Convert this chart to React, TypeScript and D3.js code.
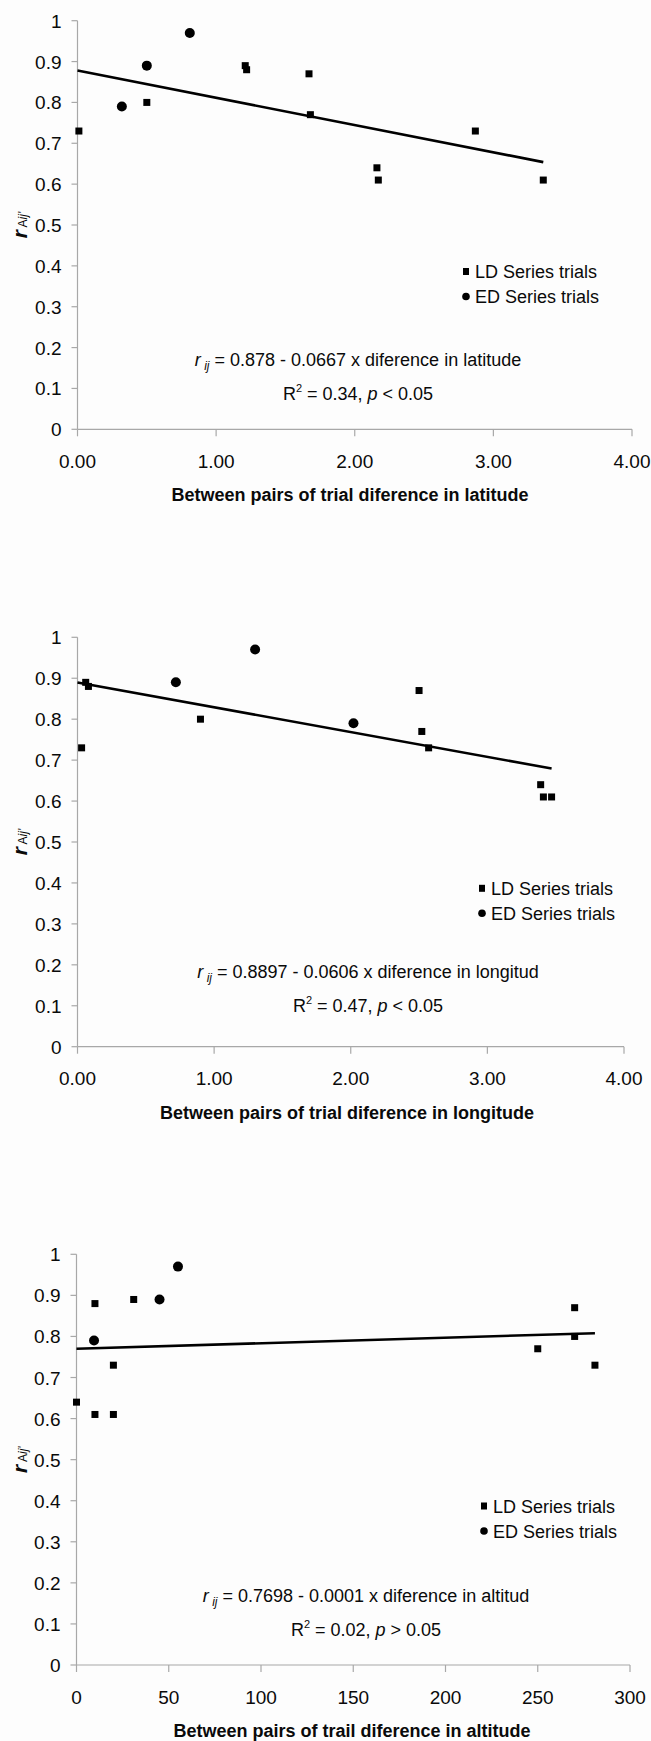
import React from 'react';
import * as d3 from 'd3';

// ---- data ----
// latitude panel
const latLdX = [0.01, 0.5, 1.21, 1.22, 1.67, 1.68, 2.16, 2.17, 2.87, 3.36];
const latLdY = [0.73, 0.8, 0.89, 0.88, 0.87, 0.77, 0.64, 0.61, 0.73, 0.61];
const latEdX = [0.32, 0.5, 0.81];
const latEdY = [0.79, 0.89, 0.97];
const latFit = [0.878, -0.0667, 3.36]; // intercept, slope, last x

// longitude panel
const lonLdX = [0.03, 0.06, 0.08, 0.9, 2.5, 2.52, 2.57, 3.39, 3.41, 3.47];
const lonLdY = [0.73, 0.89, 0.88, 0.8, 0.87, 0.77, 0.73, 0.64, 0.61, 0.61];
const lonEdX = [0.72, 1.3, 2.02];
const lonEdY = [0.89, 0.97, 0.79];
const lonFit = [0.8897, -0.0606, 3.47];

// altitude panel
const altLdX = [0, 10, 10, 20, 20, 31, 250, 270, 270, 281];
const altLdY = [0.64, 0.88, 0.61, 0.73, 0.61, 0.89, 0.77, 0.87, 0.8, 0.73];
const altEdX = [9.5, 45, 55];
const altEdY = [0.79, 0.89, 0.97];
const altFit = [0.77, 0.000135, 281];

const yTicks = [0, 0.1, 0.2, 0.3, 0.4, 0.5, 0.6, 0.7, 0.8, 0.9, 1];
const degTicks = [0, 1, 2, 3, 4];
const altTicks = [0, 50, 100, 150, 200, 250, 300];

const legendLabels = ['LD Series trials', 'ED Series trials'];

const latNote = ['0.878 - 0.0667 x diference in latitude', '0.34', '<'];
const lonNote = ['0.8897 - 0.0606 x diference in longitud', '0.47', '<'];
const altNote = ['0.7698 - 0.0001 x diference in altitud', '0.02', '>'];

const latTitle = 'Between pairs of trial diference in latitude';
const lonTitle = 'Between pairs of trial diference in longitude';
const altTitle = 'Between pairs of trail diference in altitude';

const FONT = '"Liberation Sans", Arial, Helvetica, sans-serif';
const AXIS = '#a8a8a8';
const INK = '#0a0a0a';

const Panel = (props) => {
    const { left, right, top, bottom, xMax, xTicks, fmt, ldX, ldY, edX, edY, fit,
        legX, legY, noteX, noteY, note, title, titleX } = props;

    const x = d3.scaleLinear().domain([0, xMax]).range([left, right]);
    const y = d3.scaleLinear().domain([0, 1]).range([bottom, top]);

    const trend = d3.line()
        .x(d => x(d))
        .y(d => y(fit[0] + fit[1] * d));

    const sq = 7;
    return (
        <g fontFamily={FONT}>
            {/* axes */}
            <line x1={left} x2={left} y1={top} y2={bottom} stroke={AXIS} strokeWidth={1.2} />
            <line x1={left} x2={right} y1={bottom} y2={bottom} stroke={AXIS} strokeWidth={1.2} />
            {yTicks.map(t => (
                <g key={'y' + t}>
                    <line x1={left - 6} x2={left} y1={y(t)} y2={y(t)} stroke={AXIS} strokeWidth={1.2} />
                    <text x={left - 16} y={y(t) + 7} textAnchor="end" fontSize={19} fill={INK}>{String(t)}</text>
                </g>
            ))}
            {xTicks.map(t => (
                <g key={'x' + t}>
                    <line x1={x(t)} x2={x(t)} y1={bottom} y2={bottom + 7} stroke={AXIS} strokeWidth={1.2} />
                    <text x={x(t)} y={bottom + 38.5} textAnchor="middle" fontSize={19} fill={INK}>{fmt(t)}</text>
                </g>
            ))}

            {/* y title */}
            <text transform={`translate(27,${(top + bottom) / 2}) rotate(-90)`} textAnchor="middle" fill={INK}>
                <tspan fontSize={21} fontWeight="bold" fontStyle="italic">r</tspan>
                <tspan fontSize={12}> A</tspan>
                <tspan fontSize={12} fontStyle="italic">ij'</tspan>
            </text>

            {/* trend */}
            <path d={trend([0, fit[2]])} fill="none" stroke="#000" strokeWidth={2.6} />

            {/* points */}
            {ldX.map((v, i) => (
                <rect key={'ld' + i} x={x(v) - sq / 2} y={y(ldY[i]) - sq / 2} width={sq} height={sq} fill="#000" />
            ))}
            {edX.map((v, i) => (
                <circle key={'ed' + i} cx={x(v)} cy={y(edY[i])} r={5} fill="#000" />
            ))}

            {/* legend */}
            <rect x={legX - 3} y={legY - 3.5} width={6} height={7} fill="#000" />
            <text x={legX + 9} y={legY + 6.5} fontSize={18} fill={INK}>{legendLabels[0]}</text>
            <circle cx={legX} cy={legY + 25} r={3.8} fill="#000" />
            <text x={legX + 9} y={legY + 31.5} fontSize={18} fill={INK}>{legendLabels[1]}</text>

            {/* fitted equation */}
            <text x={noteX} y={noteY} textAnchor="middle" fontSize={18} fill={INK}>
                <tspan fontStyle="italic">r</tspan>
                <tspan fontStyle="italic" fontSize={12} dy={4}> ij</tspan>
                <tspan dy={-4}>{' = ' + note[0]}</tspan>
            </text>
            <text x={noteX} y={noteY + 34} textAnchor="middle" fontSize={18} fill={INK}>
                <tspan>R</tspan>
                <tspan fontSize={11} dy={-8}>2</tspan>
                <tspan dy={8}>{' = ' + note[1] + ', '}</tspan>
                <tspan fontStyle="italic">p</tspan>
                <tspan>{' ' + note[2] + ' 0.05'}</tspan>
            </text>

            {/* x title */}
            <text x={titleX} y={bottom + 72} textAnchor="middle" fontSize={18} fontWeight="bold" fill={INK}>{title}</text>
        </g>
    );
};

const fmt2 = d => d.toFixed(2);
const fmt0 = d => String(d);

const App = () => {
    return (
        <svg width={651} height={1741} viewBox="0 0 651 1741"
            style={{ position: 'absolute', left: 0, top: 0, display: 'block' }}>
            <rect width={651} height={1741} fill="#fdfdfd" />
            <Panel left={77.5} right={632} top={20.7} bottom={429.3} xMax={4} xTicks={degTicks} fmt={fmt2}
                ldX={latLdX} ldY={latLdY} edX={latEdX} edY={latEdY} fit={latFit}
                legX={466} legY={271.5} noteX={358} noteY={366} note={latNote}
                title={latTitle} titleX={350} />
            <Panel left={77.5} right={624} top={637.3} bottom={1046.7} xMax={4} xTicks={degTicks} fmt={fmt2}
                ldX={lonLdX} ldY={lonLdY} edX={lonEdX} edY={lonEdY} fit={lonFit}
                legX={482} legY={888.3} noteX={368} noteY={978.3} note={lonNote}
                title={lonTitle} titleX={347} />
            <Panel left={76.5} right={630} top={1254.3} bottom={1665} xMax={300} xTicks={altTicks} fmt={fmt0}
                ldX={altLdX} ldY={altLdY} edX={altEdX} edY={altEdY} fit={altFit}
                legX={484} legY={1506} noteX={366} noteY={1601.7} note={altNote}
                title={altTitle} titleX={352} />
        </svg>
    );
};

export default App;
